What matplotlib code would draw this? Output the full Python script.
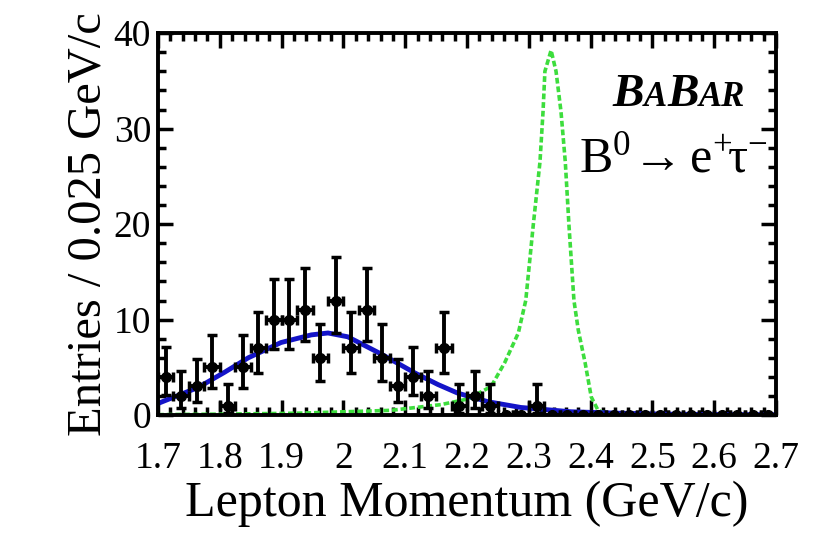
import matplotlib
matplotlib.use("Agg")
import matplotlib.pyplot as plt
from matplotlib.offsetbox import TextArea, HPacker, AnnotationBbox

plt.rcParams['font.family'] = ['Liberation Serif', 'DejaVu Serif']
plt.rcParams['mathtext.fontset'] = 'custom'
plt.rcParams['mathtext.rm'] = 'Liberation Serif'
plt.rcParams['mathtext.it'] = 'Liberation Serif:italic'

# data: 40 bins of 0.025 GeV/c
bin_centers = [1.7125 + 0.025 * i for i in range(40)]
counts = [4, 2, 3, 5, 1, 5, 7, 10, 10, 11, 6, 12, 7, 11, 6, 3, 4, 2, 7, 1,
          2, 1, 0, 0, 1, 0, 0, 0, 0, 0, 0, 0, 0, 0, 0, 0, 0, 0, 0, 0]
err_lo = [1.91, 1.29, 1.63, 2.16, 0.83, 2.16, 2.58, 3.11, 3.11, 3.28, 2.38, 3.45, 2.58, 3.28, 2.38, 1.63, 1.91, 1.29, 2.58, 0.83,
          1.29, 0.83, 0, 0, 0.83, 0, 0, 0, 0, 0, 0, 0, 0, 0, 0, 0, 0, 0, 0, 0]
err_hi = [3.16, 2.64, 2.92, 3.38, 2.30, 3.38, 3.77, 4.27, 4.27, 4.42, 3.58, 4.56, 3.77, 4.42, 3.58, 2.92, 3.16, 2.64, 3.77, 2.30,
          2.64, 2.30, 0, 0, 2.30, 0, 0, 0, 0, 0, 0, 0, 0, 0, 0, 0, 0, 0, 0, 0]

# background fit (blue)
bkg_x = [1.70, 1.703, 1.765, 1.808, 1.846, 1.899, 1.948, 1.975, 2.007, 2.061, 2.116,
         2.153, 2.185, 2.234, 2.287, 2.368, 2.444, 2.52, 2.60, 2.70]
bkg_y = [1.2, 1.3, 2.9, 4.5, 6.0, 7.6, 8.4, 8.6, 8.2, 6.4, 4.4,
         3.2, 2.3, 1.4, 0.8, 0.35, 0.2, 0.1, 0.06, 0.04]

# signal shape (green dashed)
sig_x = [1.70, 1.80, 1.927, 2.077, 2.158, 2.202, 2.239, 2.261, 2.283, 2.295, 2.307, 2.318,
         2.323, 2.326, 2.336, 2.344, 2.352, 2.359, 2.365, 2.373, 2.380, 2.391,
         2.401, 2.412, 2.428, 2.50, 2.70]
sig_y = [0.05, 0.1, 0.2, 0.5, 1.1, 1.7, 3.0, 5.5, 8.6, 12.0, 19.8, 26.5,
         31.8, 36.0, 38.2, 36.0, 31.8, 26.5, 19.8, 12.0, 8.9, 5.5,
         1.9, 0.5, 0.1, 0.0, 0.0]

fig = plt.figure(figsize=(8.18, 5.52), dpi=100)
ax = fig.add_axes([0.1932, 0.248, 0.7555, 0.692])

ax.plot(sig_x, sig_y, color='#3ddd3d', lw=2.6, linestyle=(0, (1.6, 0.8)))
ax.plot(bkg_x, bkg_y, color='#1414c8', lw=3.5)
ax.errorbar(bin_centers, counts, yerr=[err_lo, err_hi], xerr=0.0125,
            fmt='o', color='black', ms=7, elinewidth=2.8, capsize=3.5, capthick=2.5, zorder=5)

ax.set_xlim(1.7, 2.7)
ax.set_ylim(0, 40)
ax.set_xticks([1.7, 1.8, 1.9, 2.0, 2.1, 2.2, 2.3, 2.4, 2.5, 2.6, 2.7])
ax.set_xticklabels(['1.7', '1.8', '1.9', '2', '2.1', '2.2', '2.3', '2.4', '2.5', '2.6', '2.7'])
ax.set_xticks([1.7 + 0.02 * i for i in range(51)], minor=True)
ax.set_yticks([0, 10, 20, 30, 40])
ax.set_yticks(list(range(0, 41, 2)), minor=True)
ax.tick_params(which='both', direction='in', top=True, right=True, width=2.5, labelsize=27)
ax.tick_params(which='major', length=11)
ax.tick_params(which='minor', length=5.5)
ax.tick_params(axis='x', pad=19)
ax.tick_params(axis='y', pad=5)
for s in ax.spines.values():
    s.set_linewidth(2.8)

ax.set_xlabel('Lepton Momentum (GeV/c)', fontsize=36, labelpad=3)
ax.set_ylabel('Entries / 0.025 GeV/c', fontsize=35, labelpad=2)

# BaBar logo
big = dict(fontsize=34, fontweight='bold', fontstyle='italic', family='Liberation Serif')
small = dict(fontsize=25, fontweight='bold', fontstyle='italic', family='Liberation Serif')
logo = HPacker(children=[TextArea('B', textprops=big), TextArea('A', textprops=small),
                         TextArea('B', textprops=big), TextArea('AR', textprops=small)],
               align='baseline', pad=0, sep=0)
ab = AnnotationBbox(logo, (2.65, 31.3), xycoords='data', box_alignment=(1, 0), frameon=False)
ax.add_artist(ab)

ax.text(2.381, 25.5, r'$\mathrm{B}^{0}\!\rightarrow\mathrm{e}^{+}\!\mathrm{\tau}^{-}$', fontsize=36,
        ha='left', va='baseline')

fig.savefig('out.png', dpi=100, facecolor='white')
